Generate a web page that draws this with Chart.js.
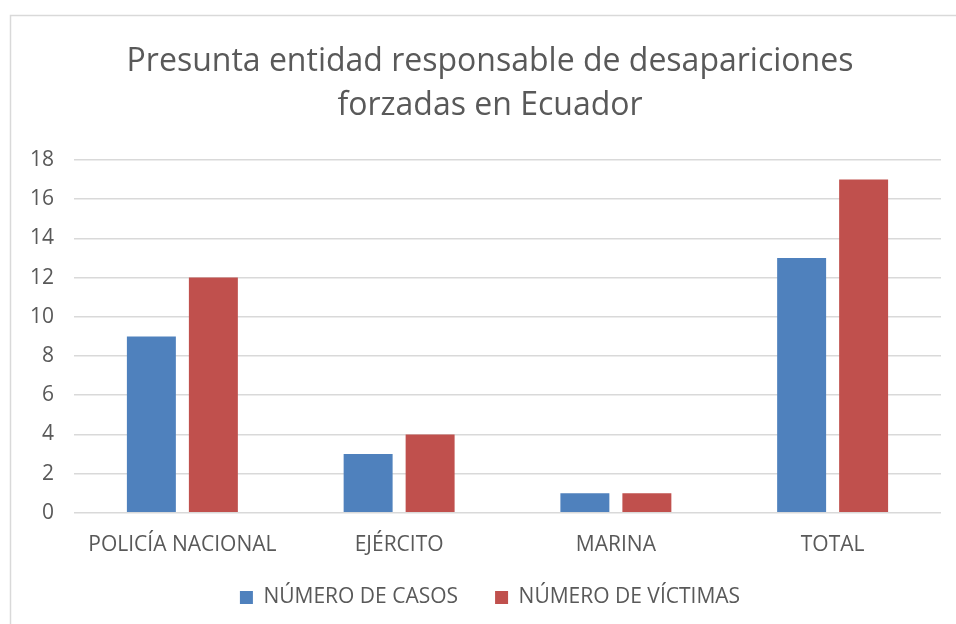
<!DOCTYPE html>
<html>
<head>
<meta charset="utf-8">
<script src="https://cdn.jsdelivr.net/npm/chart.js@4/dist/chart.umd.min.js"></script>
<style>
  html, body { margin: 0; padding: 0; background: #fff; overflow: hidden; }
  #wrap { position: relative; width: 985px; height: 624px; }
</style>
</head>
<body>
<div id="wrap"><canvas id="desaparicionesChart"></canvas></div>
<script>
// Datos del gráfico
const categorias = ['POLICÍA NACIONAL', 'EJÉRCITO', 'MARINA', 'TOTAL'];
const numeroCasos = [9, 3, 1, 13];
const numeroVictimas = [12, 4, 1, 17];
const tituloLineas = ['Presunta entidad responsable de desapariciones', 'forzadas en Ecuador'];
const etiquetasSeries = ['NÚMERO DE CASOS', 'NÚMERO DE VÍCTIMAS'];

const textColor = '#595959';
const gridColor = '#D9D9D9';

// Marco gris alrededor del área del gráfico
const marcoPlugin = {
    id: 'marco',
    afterLayout: function(chart) {
        // el eje x se acortó para acercar la leyenda; que no recorte sus etiquetas
        chart.scales.x.bottom += 30;
    },
    beforeDraw: function(chart) {
        const ctx = chart.ctx;
        ctx.save();
        ctx.fillStyle = '#fff';
        ctx.fillRect(0, 0, chart.width, chart.height);
        ctx.strokeStyle = gridColor;
        ctx.lineWidth = 1.5;
        ctx.strokeRect(10.5, 15.5, chart.width, chart.height);
        ctx.restore();
    }
};

document.addEventListener('DOMContentLoaded', function() {
    const ctx = document.getElementById('desaparicionesChart');
    new Chart(ctx.getContext('2d'), {
        type: 'bar',
        data: {
            labels: categorias,
            datasets: [{
                label: etiquetasSeries[0],
                data: numeroCasos,
                backgroundColor: '#4F81BD',
                borderWidth: 0,
                categoryPercentage: 0.572,
                barPercentage: 0.79
            }, {
                label: etiquetasSeries[1],
                data: numeroVictimas,
                backgroundColor: '#C0504D',
                borderWidth: 0,
                categoryPercentage: 0.572,
                barPercentage: 0.79
            }]
        },
        options: {
            responsive: true,
            maintainAspectRatio: false,
            animation: false,
            layout: {
                padding: { left: 10, right: 15, top: 22, bottom: 6 }
            },
            plugins: {
                title: {
                    display: true,
                    text: tituloLineas,
                    color: textColor,
                    font: { family: 'Open Sans', size: 32, weight: 'normal', lineHeight: 1.375 },
                    padding: { top: 18, bottom: 32 }
                },
                legend: {
                    position: 'bottom',
                    labels: {
                        color: textColor,
                        boxWidth: 13,
                        boxHeight: 13,
                        padding: 37,
                        font: { family: 'Open Sans', size: 21 }
                    }
                },
                tooltip: { enabled: false }
            },
            scales: {
                y: {
                    min: 0,
                    max: 18,
                    ticks: {
                        stepSize: 2,
                        color: textColor,
                        padding: 20,
                        font: { family: 'Open Sans', size: 21 }
                    },
                    grid: {
                        color: gridColor,
                        lineWidth: 1.5,
                        drawTicks: false
                    },
                    border: { display: false },
                    afterFit: function(scale) { scale.width = 64; }
                },
                // eje vacío a la derecha: el marco del gráfico sigue más allá de la imagen
                y2: {
                    position: 'right',
                    ticks: { display: false },
                    grid: { display: false, drawTicks: false },
                    border: { display: false },
                    afterFit: function(scale) { scale.width = 29; }
                },
                x: {
                    ticks: {
                        color: textColor,
                        padding: 20,
                        font: { family: 'Open Sans', size: 21 }
                    },
                    grid: { display: false, drawTicks: false },
                    border: { display: false },
                    afterFit: function(scale) { scale.height = scale.height - 28; }
                }
            }
        },
        plugins: [marcoPlugin]
    });
});
</script>
</body>
</html>
